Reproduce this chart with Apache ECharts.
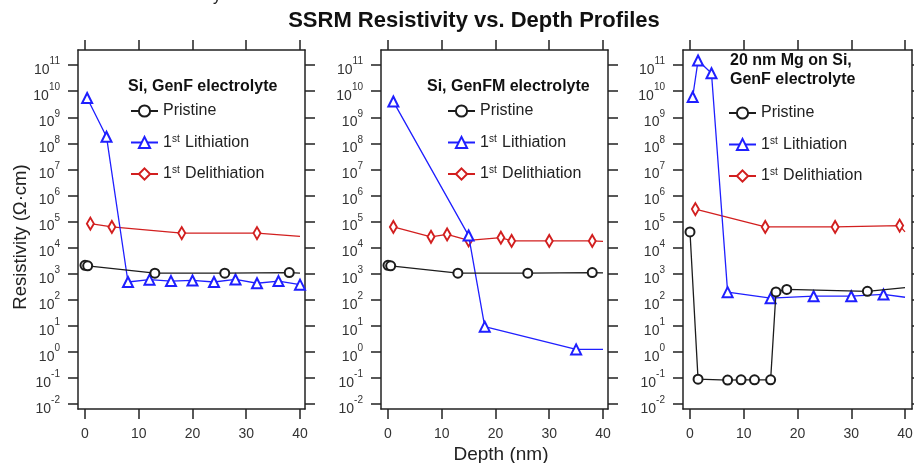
<!DOCTYPE html>
<html>
<head>
<meta charset="utf-8">
<script src="https://cdn.jsdelivr.net/npm/echarts@6/dist/echarts.min.js"></script>
<style>
  html, body { margin: 0; padding: 0; background: #fff; }
  #chart { width: 914px; height: 463px; }
</style>
</head>
<body>
<div id="chart"></div>
<script>
// Tick positions: depth in nm, resistivity decades as powers of ten
const depthTicks = [0, 10, 20, 30, 40];
const decadeTicks = [-2, -1, 0, 1, 2, 3, 4, 5, 6, 7, 8, 9, 10, 11];
const seriesNames = ['Pristine', '1st Lithiation', '1st Delithiation'];
const panelTitles = ['Si, GenF electrolyte', 'Si, GenFM electrolyte', '20 nm Mg on Si,\nGenF electrolyte'];

// [depth (nm), resistivity (Ω·cm)]
// Si, GenF electrolyte
const genfPristine = [[0, 2100], [0.5, 2000], [13, 1050], [26, 1050], [38, 1100], [40, 1050]];
const genfLithiation = [[0.4, 5.5e9], [4, 1.8e8], [8, 480], [12, 590], [16, 520], [20, 550], [24, 480], [28, 600], [32, 430], [36, 520], [40, 380]];
const genfDelithiation = [[1, 8.3e4], [5, 6.2e4], [18, 3.6e4], [32, 3.6e4], [40, 2.7e4]];

// Si, GenFM electrolyte
const genfmPristine = [[0, 2100], [0.5, 2000], [13, 1050], [26, 1050], [38, 1100], [40, 1080]];
const genfmLithiation = [[1, 4e9], [15, 2.9e4], [18, 9.3], [35, 1.25], [40, 1.25]];
const genfmDelithiation = [[1, 6.2e4], [8, 2.6e4], [11, 3.2e4], [15, 1.9e4], [21, 2.4e4], [23, 1.8e4], [30, 1.8e4], [38, 1.8e4], [40, 1.75e4]];

// 20 nm Mg on Si, GenF electrolyte
const mgPristine = [[0, 4e4], [1.5, 0.09], [7, 0.083], [9.5, 0.085], [12, 0.085], [15, 0.085], [16, 200], [18, 250], [33, 210], [40, 290]];
const mgLithiation = [[0.5, 6e9], [1.5, 1.5e11], [4, 4.9e10], [7, 196], [15, 115], [23, 137], [30, 137], [36, 160], [40, 125]];
const mgDelithiation = [[1, 3e5], [14, 6.2e4], [27, 6.2e4], [39, 7e4], [40, 4e4]];

const panels = [
  { title: panelTitles[0], data: [genfPristine, genfLithiation, genfDelithiation], openEnd: [true, false, true] },
  { title: panelTitles[1], data: [genfmPristine, genfmLithiation, genfmDelithiation], openEnd: [true, true, true] },
  { title: panelTitles[2], data: [mgPristine, mgLithiation, mgDelithiation], openEnd: [true, true, true] }
];

// Layout of the three framed plots
const grids = [
  { left: 78, top: 50, width: 227, height: 359, xMax: 40.93 },
  { left: 381, top: 50, width: 227, height: 359, xMax: 40.93 },
  { left: 683, top: 50, width: 229, height: 359, xMax: 41.3 }
];
const legendBoxes = [
  { left: 130, top: 103, titleX: 128, titleY: 87 },
  { left: 447, top: 103, titleX: 427, titleY: 87 },
  { left: 728, top: 105, titleX: 730, titleY: 70 }
];

const FONT = 'Liberation Sans, Arial, sans-serif';
const INK = '#222';
const lineLooks = [
  { color: '#1c1c1c', symbol: 'emptyCircle', symbolSize: 9 },
  { color: '#1f1fff', symbol: 'emptyTriangle', symbolSize: 10 },
  { color: '#d21f1f', symbol: 'emptyDiamond', symbolSize: [7, 12] }
];

const yMin = -2.19, yMax = 11.58, xMin = -1.3;

function toPoints(pairs, openEnd) {
  return pairs.map((p, i) => {
    const v = [p[0], Math.log10(p[1])];
    return (openEnd && i === pairs.length - 1) ? { value: v, symbol: 'none' } : v;
  });
}

const frameLine = { show: true, onZero: false, lineStyle: { color: INK, width: 1.5 } };
const outTicks = (vals) => ({ show: true, inside: false, length: 10, customValues: vals, lineStyle: { color: INK, width: 1.5 } });

const gridOpts = [], xAxes = [], yAxes = [], series = [], legends = [], graphics = [];

grids.forEach((g, k) => {
  gridOpts.push({ left: g.left, top: g.top, width: g.width, height: g.height, outerBoundsMode: 'none', containLabel: false });
  // bottom and top depth axes
  xAxes.push({
    type: 'value', gridIndex: k, position: 'bottom', min: xMin, max: g.xMax,
    axisLine: frameLine, axisTick: outTicks(depthTicks), splitLine: { show: false },
    axisLabel: { show: true, customValues: depthTicks, margin: 18, fontSize: 14, color: '#333', fontFamily: FONT }
  });
  xAxes.push({
    type: 'value', gridIndex: k, position: 'top', min: xMin, max: g.xMax,
    axisLine: frameLine, axisTick: outTicks(depthTicks), splitLine: { show: false },
    axisLabel: { show: false }
  });
  // left and right resistivity axes (log10 scale)
  yAxes.push({
    type: 'value', gridIndex: k, position: 'left', min: yMin, max: yMax,
    axisLine: frameLine, axisTick: outTicks(decadeTicks), splitLine: { show: false },
    axisLabel: {
      show: true, customValues: decadeTicks, margin: 18, color: '#333', fontFamily: FONT,
      formatter: (v) => '{b|10}{e|' + Math.round(v) + '}',
      rich: {
        b: { fontSize: 14, fontFamily: FONT, color: '#333', padding: [10, 0, 0, 0] },
        e: { fontSize: 10, fontFamily: FONT, color: '#333', padding: [0, 0, 7, 0] }
      }
    }
  });
  yAxes.push({
    type: 'value', gridIndex: k, position: 'right', min: yMin, max: yMax,
    axisLine: frameLine, axisTick: outTicks(decadeTicks), splitLine: { show: false },
    axisLabel: { show: false }
  });

  const panel = panels[k];
  panel.data.forEach((pairs, s) => {
    const look = lineLooks[s];
    series.push({
      type: 'line', name: seriesNames[s],
      xAxisIndex: 2 * k, yAxisIndex: 2 * k,
      data: toPoints(pairs, panel.openEnd[s]),
      symbol: look.symbol, symbolSize: look.symbolSize, showSymbol: true, showAllSymbol: true,
      color: look.color,
      lineStyle: { color: look.color, width: 1.3 },
      itemStyle: { color: look.color, borderColor: look.color, borderWidth: 1.5 },
      clip: true, z: 3 - s
    });
  });

  const lb = legendBoxes[k];
  legends.push({
    orient: 'vertical', left: lb.left, top: lb.top, padding: 0,
    itemWidth: 27, itemHeight: 14, itemGap: 15, itemStyle: { borderWidth: 1.5 },
    data: seriesNames,
    selectedMode: false,
    formatter: (name) => name.replace('1st', '{n|1}{s|st}'),
    textStyle: {
      fontSize: 16, color: INK, fontFamily: FONT,
      rich: {
        n: { fontSize: 16, color: INK, fontFamily: FONT },
        s: { fontSize: 10, color: INK, fontFamily: FONT, padding: [0, 1, 7, 0] }
      }
    }
  });

  graphics.push({
    type: 'text', x: lb.titleX, y: lb.titleY,
    style: { text: panel.title, font: 'bold 16px ' + FONT, fill: '#111', textAlign: 'left', textVerticalAlign: 'middle', lineHeight: 19 }
  });
});

// Figure title and shared axis names
graphics.push({
  type: 'text', x: 474, y: 21,
  style: { text: 'SSRM Resistivity vs. Depth Profiles', font: 'bold 22px ' + FONT, fill: '#111', textAlign: 'center', textVerticalAlign: 'middle' }
});
graphics.push({
  type: 'text', x: 21, y: 237, rotation: Math.PI / 2,
  style: { text: 'Resistivity (Ω·cm)', font: '18.5px ' + FONT, fill: INK, textAlign: 'center', textVerticalAlign: 'middle' }
});
graphics.push({
  type: 'text', x: 501, y: 455,
  style: { text: 'Depth (nm)', font: '19px ' + FONT, fill: INK, textAlign: 'center', textVerticalAlign: 'middle' }
});
graphics.push({
  type: 'text', x: 213, y: -11,
  style: { text: 'y', font: '16px ' + FONT, fill: INK, textAlign: 'left', textVerticalAlign: 'top' }
});

const chart = echarts.init(document.getElementById('chart'), null, { renderer: 'canvas' });
chart.setOption({
  animation: false,
  backgroundColor: '#fff',
  grid: gridOpts,
  xAxis: xAxes,
  yAxis: yAxes,
  legend: legends,
  series: series,
  graphic: graphics
});
</script>
</body>
</html>
